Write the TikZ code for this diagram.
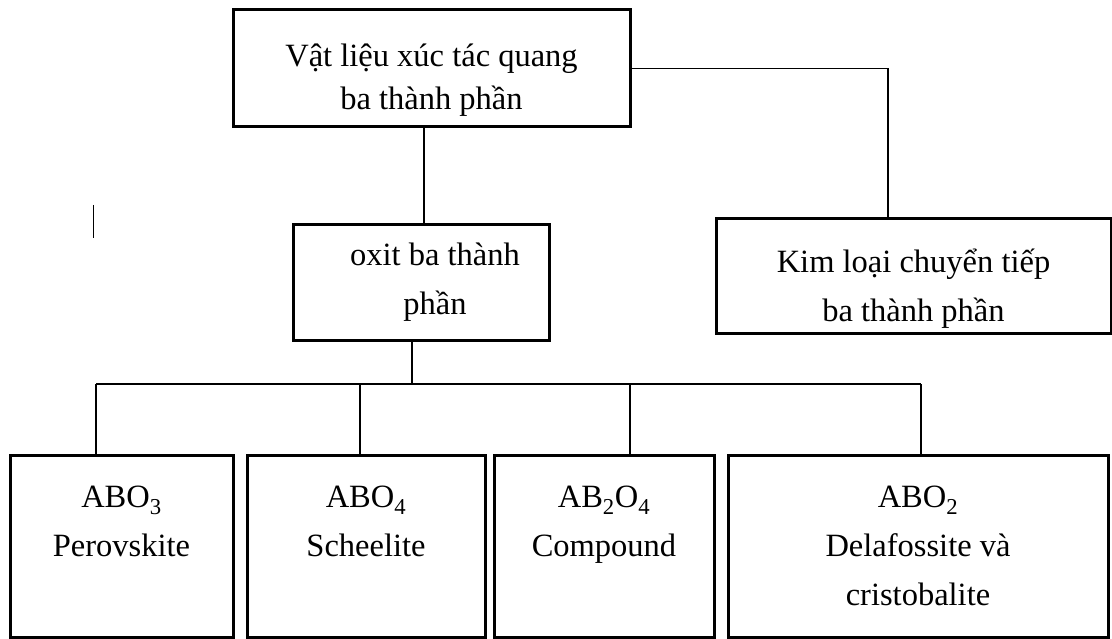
\documentclass[tikz,border=0pt]{standalone}
\usepackage{fontspec}
\setmainfont{Liberation Serif}
\usetikzlibrary{positioning,calc}

% extra head room on a first line, to set a text lower in its box
\newcommand{\headroom}[1]{\rule{0pt}{#1}}

\begin{document}
\begin{tikzpicture}[
  x=1pt, y=-1pt,
  every node/.style={align=center, font=\fontsize{32.5}{49}\selectfont},
  box/.style={draw, line width=3pt, inner sep=0pt, outer sep=0pt},
  type/.style={box, minimum height=182pt},
  link/.style={line width=1.3pt}
]
\useasboundingbox (0,0) rectangle (1112,639);

\node[box, minimum width=397pt, minimum height=117pt, font=\fontsize{32.5}{43}\selectfont] (matl) at (431.5,68.5)
  {\headroom{46pt}Vật liệu xúc tác quang\\ba thành phần};
\node[box, minimum width=256pt, minimum height=115pt] (oxit) at (421,282.5)
  {\hspace*{28pt}oxit ba thành\\\hspace*{28pt}phần};
\node[box, minimum width=395pt, minimum height=115pt] (kim) at (913.5,276.5)
  {\headroom{48pt}Kim loại chuyển tiếp\\ba thành phần};

\node[type, minimum width=223pt] (abo3) at (121.5,546) {ABO\textsubscript{3}\\Perovskite\\\mbox{}};
\node[type, minimum width=238pt, right=14pt of abo3] (abo4) {ABO\textsubscript{4}\\Scheelite\\\mbox{}};
\node[type, minimum width=220pt, right=9pt of abo4] (abtwo) {AB\textsubscript{2}O\textsubscript{4}\\Compound\\\mbox{}};
\node[type, minimum width=380pt, right=14pt of abtwo] (abo2) {ABO\textsubscript{2}\\Delafossite và\\cristobalite};

% top level: one drop to the oxide box, one elbow to the metal box
\draw[link] ([xshift=-7.5pt]matl.south) -- ([xshift=3pt]oxit.north);
\draw[link] (matl.east) -| ([xshift=-25.5pt]kim.north);

% bus under the oxide box, then a drop into each structure type
\coordinate (bus) at ([xshift=-9pt, yshift=-44pt]oxit.south);
\draw[link] ([xshift=-9pt]oxit.south) -- (bus);
\draw[link] ([xshift=-25.5pt]abo3.north |- bus) -- ([xshift=3pt]abo2.north |- bus);
\foreach \b/\x in {abo3/-25.5, abo4/-6, abtwo/26, abo2/3}
  \draw[link] ([xshift=\x pt]\b.north |- bus) -- ([xshift=\x pt]\b.north);

\draw[line width=1pt] (93,205) -- (93,238);
\end{tikzpicture}
\end{document}
